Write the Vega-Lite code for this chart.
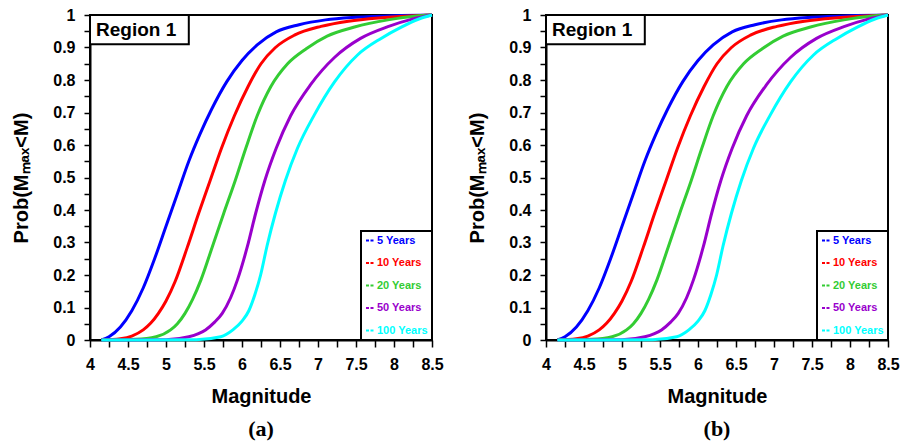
{
  "$schema": "https://vega.github.io/schema/vega-lite/v6.json",
  "padding": {"left": 10, "top": 6, "right": 0, "bottom": 0},
  "spacing": 21,
  "background": "white",
  "datasets": {
    "curves": [
      {"period": "5 Years", "magnitude": 4.15, "prob": 0},
      {"period": "5 Years", "magnitude": 4.25, "prob": 0.01},
      {"period": "5 Years", "magnitude": 4.4, "prob": 0.04},
      {"period": "5 Years", "magnitude": 4.55, "prob": 0.09},
      {"period": "5 Years", "magnitude": 4.7, "prob": 0.16},
      {"period": "5 Years", "magnitude": 4.85, "prob": 0.25},
      {"period": "5 Years", "magnitude": 5.0, "prob": 0.35},
      {"period": "5 Years", "magnitude": 5.15, "prob": 0.45},
      {"period": "5 Years", "magnitude": 5.3, "prob": 0.55},
      {"period": "5 Years", "magnitude": 5.45, "prob": 0.635},
      {"period": "5 Years", "magnitude": 5.6, "prob": 0.71},
      {"period": "5 Years", "magnitude": 5.8, "prob": 0.795},
      {"period": "5 Years", "magnitude": 6.0, "prob": 0.86},
      {"period": "5 Years", "magnitude": 6.2, "prob": 0.908},
      {"period": "5 Years", "magnitude": 6.45, "prob": 0.948},
      {"period": "5 Years", "magnitude": 6.75, "prob": 0.97},
      {"period": "5 Years", "magnitude": 7.1, "prob": 0.985},
      {"period": "5 Years", "magnitude": 7.5, "prob": 0.993},
      {"period": "5 Years", "magnitude": 8.0, "prob": 0.998},
      {"period": "5 Years", "magnitude": 8.5, "prob": 1},
      {"period": "10 Years", "magnitude": 4.15, "prob": 0},
      {"period": "10 Years", "magnitude": 4.4, "prob": 0.004},
      {"period": "10 Years", "magnitude": 4.55, "prob": 0.012},
      {"period": "10 Years", "magnitude": 4.7, "prob": 0.031},
      {"period": "10 Years", "magnitude": 4.8, "prob": 0.052},
      {"period": "10 Years", "magnitude": 4.9, "prob": 0.082},
      {"period": "10 Years", "magnitude": 5.0, "prob": 0.12},
      {"period": "10 Years", "magnitude": 5.12, "prob": 0.18},
      {"period": "10 Years", "magnitude": 5.28, "prob": 0.285},
      {"period": "10 Years", "magnitude": 5.43, "prob": 0.39},
      {"period": "10 Years", "magnitude": 5.58, "prob": 0.49},
      {"period": "10 Years", "magnitude": 5.73, "prob": 0.59},
      {"period": "10 Years", "magnitude": 5.9, "prob": 0.69},
      {"period": "10 Years", "magnitude": 6.08, "prob": 0.78},
      {"period": "10 Years", "magnitude": 6.25, "prob": 0.85},
      {"period": "10 Years", "magnitude": 6.44, "prob": 0.9},
      {"period": "10 Years", "magnitude": 6.69, "prob": 0.938},
      {"period": "10 Years", "magnitude": 7.04, "prob": 0.965},
      {"period": "10 Years", "magnitude": 7.4, "prob": 0.981},
      {"period": "10 Years", "magnitude": 7.8, "prob": 0.991},
      {"period": "10 Years", "magnitude": 8.2, "prob": 0.997},
      {"period": "10 Years", "magnitude": 8.5, "prob": 1},
      {"period": "20 Years", "magnitude": 4.15, "prob": 0},
      {"period": "20 Years", "magnitude": 4.6, "prob": 0.002},
      {"period": "20 Years", "magnitude": 4.87, "prob": 0.01},
      {"period": "20 Years", "magnitude": 5.06, "prob": 0.031},
      {"period": "20 Years", "magnitude": 5.15, "prob": 0.05},
      {"period": "20 Years", "magnitude": 5.25, "prob": 0.082},
      {"period": "20 Years", "magnitude": 5.35, "prob": 0.125},
      {"period": "20 Years", "magnitude": 5.46, "prob": 0.185},
      {"period": "20 Years", "magnitude": 5.61, "prob": 0.287},
      {"period": "20 Years", "magnitude": 5.76, "prob": 0.39},
      {"period": "20 Years", "magnitude": 5.91, "prob": 0.49},
      {"period": "20 Years", "magnitude": 6.05, "prob": 0.59},
      {"period": "20 Years", "magnitude": 6.2, "prob": 0.69},
      {"period": "20 Years", "magnitude": 6.38, "prob": 0.78},
      {"period": "20 Years", "magnitude": 6.6, "prob": 0.85},
      {"period": "20 Years", "magnitude": 6.85, "prob": 0.897},
      {"period": "20 Years", "magnitude": 7.12, "prob": 0.935},
      {"period": "20 Years", "magnitude": 7.48, "prob": 0.963},
      {"period": "20 Years", "magnitude": 7.92, "prob": 0.985},
      {"period": "20 Years", "magnitude": 8.3, "prob": 0.997},
      {"period": "20 Years", "magnitude": 8.5, "prob": 1},
      {"period": "50 Years", "magnitude": 4.15, "prob": 0},
      {"period": "50 Years", "magnitude": 5.0, "prob": 0.001},
      {"period": "50 Years", "magnitude": 5.3, "prob": 0.01},
      {"period": "50 Years", "magnitude": 5.52, "prob": 0.031},
      {"period": "50 Years", "magnitude": 5.64, "prob": 0.055},
      {"period": "50 Years", "magnitude": 5.74, "prob": 0.082},
      {"period": "50 Years", "magnitude": 5.85, "prob": 0.13},
      {"period": "50 Years", "magnitude": 5.94, "prob": 0.185},
      {"period": "50 Years", "magnitude": 6.07, "prob": 0.287},
      {"period": "50 Years", "magnitude": 6.18, "prob": 0.39},
      {"period": "50 Years", "magnitude": 6.3, "prob": 0.49},
      {"period": "50 Years", "magnitude": 6.45, "prob": 0.59},
      {"period": "50 Years", "magnitude": 6.64, "prob": 0.69},
      {"period": "50 Years", "magnitude": 6.9, "prob": 0.785},
      {"period": "50 Years", "magnitude": 7.22, "prob": 0.87},
      {"period": "50 Years", "magnitude": 7.56, "prob": 0.928},
      {"period": "50 Years", "magnitude": 7.92, "prob": 0.964},
      {"period": "50 Years", "magnitude": 8.25, "prob": 0.988},
      {"period": "50 Years", "magnitude": 8.5, "prob": 1},
      {"period": "100 Years", "magnitude": 4.15, "prob": 0},
      {"period": "100 Years", "magnitude": 5.4, "prob": 0.001},
      {"period": "100 Years", "magnitude": 5.72, "prob": 0.01},
      {"period": "100 Years", "magnitude": 5.88, "prob": 0.031},
      {"period": "100 Years", "magnitude": 6.0, "prob": 0.058},
      {"period": "100 Years", "magnitude": 6.09, "prob": 0.09},
      {"period": "100 Years", "magnitude": 6.17, "prob": 0.14},
      {"period": "100 Years", "magnitude": 6.245, "prob": 0.2},
      {"period": "100 Years", "magnitude": 6.33, "prob": 0.29},
      {"period": "100 Years", "magnitude": 6.44, "prob": 0.39},
      {"period": "100 Years", "magnitude": 6.57, "prob": 0.49},
      {"period": "100 Years", "magnitude": 6.73, "prob": 0.59},
      {"period": "100 Years", "magnitude": 6.95, "prob": 0.692},
      {"period": "100 Years", "magnitude": 7.22, "prob": 0.795},
      {"period": "100 Years", "magnitude": 7.52, "prob": 0.877},
      {"period": "100 Years", "magnitude": 7.83, "prob": 0.928},
      {"period": "100 Years", "magnitude": 8.09, "prob": 0.962},
      {"period": "100 Years", "magnitude": 8.32, "prob": 0.987},
      {"period": "100 Years", "magnitude": 8.5, "prob": 1}
    ]
  },
  "config": {
    "view": {"stroke": "black", "strokeWidth": 2},
    "legend": {"strokeWidth": 2},
    "axis": {
      "grid": false,
      "domainColor": "black",
      "domainWidth": 2,
      "tickColor": "black",
      "tickWidth": 1.5,
      "labelFont": "Liberation Sans",
      "labelFontWeight": "bold",
      "labelFontSize": 16,
      "labelColor": "black",
      "titleFont": "Liberation Sans",
      "titleFontWeight": "bold",
      "titleFontSize": 20,
      "titleColor": "black",
      "labelFlush": false,
      "labelOverlap": false
    }
  },
  "resolve": {"legend": {"color": "independent"}},
  "hconcat": [
    {
      "width": 342,
      "height": 325,
      "title": {"text": "(a)", "orient": "bottom", "font": "Liberation Serif", "fontSize": 22, "fontWeight": "bold", "color": "black", "offset": 13},
      "layer": [
        {
          "data": {"name": "curves"},
          "mark": {"type": "line", "strokeWidth": 3, "interpolate": "monotone"},
          "encoding": {
            "x": {"field": "magnitude", "type": "quantitative", "scale": {"domain": [4, 8.5], "nice": false},
              "axis": {"title": "Magnitude", "values": [4, 4.25, 4.5, 4.75, 5, 5.25, 5.5, 5.75, 6, 6.25, 6.5, 6.75, 7, 7.25, 7.5, 7.75, 8, 8.25, 8.5], "format": ".1~f", "labelExpr": "round(datum.value*4) % 2 == 0 ? datum.label : ''", "tickSize": 7, "labelPadding": 9, "titlePadding": 14}},
            "y": {"field": "prob", "type": "quantitative", "scale": {"domain": [0, 1], "nice": false},
              "axis": {"title": "Prob(Mₘₐₓ<M)", "values": [0, 0.05, 0.1, 0.15, 0.2, 0.25, 0.3, 0.35, 0.4, 0.45, 0.5, 0.55, 0.6, 0.65, 0.7, 0.75, 0.8, 0.85, 0.9, 0.95, 1], "format": ".1~f", "labelExpr": "round(datum.value*20) % 2 == 0 ? datum.label : ''", "tickSize": 6, "labelPadding": 9, "titlePadding": 21}},
            "color": {"field": "period", "type": "nominal",
              "scale": {"domain": ["5 Years", "10 Years", "20 Years", "50 Years", "100 Years"], "range": ["#0000ff", "#ff0000", "#33cc33", "#9900cc", "#00ffff"]},
              "legend": {"title": null, "orient": "bottom-right", "offset": 0, "padding": 4, "strokeColor": "black", "fillColor": "white", "symbolType": "stroke", "symbolStrokeWidth": 2, "symbolDash": [3, 1.5], "symbolSize": 81, "labelFont": "Liberation Sans", "labelFontWeight": "bold", "labelFontSize": 11, "labelColor": {"expr": "scale('color', datum.value)"}, "rowPadding": 10.5, "labelOffset": 1}}
          }
        },
        {
          "data": {"values": [{"label": "Region 1"}]},
          "mark": {"type": "rect", "fill": "white", "stroke": "black", "strokeWidth": 2},
          "encoding": {
            "x": {"datum": 4, "type": "quantitative", "axis": {"title": "Magnitude", "values": [4, 4.25, 4.5, 4.75, 5, 5.25, 5.5, 5.75, 6, 6.25, 6.5, 6.75, 7, 7.25, 7.5, 7.75, 8, 8.25, 8.5], "format": ".1~f", "labelExpr": "round(datum.value*4) % 2 == 0 ? datum.label : ''", "tickSize": 7, "labelPadding": 9, "titlePadding": 14}},
            "x2": {"datum": 5.3},
            "y": {"datum": 1, "type": "quantitative", "axis": {"title": "Prob(Mₘₐₓ<M)", "values": [0, 0.05, 0.1, 0.15, 0.2, 0.25, 0.3, 0.35, 0.4, 0.45, 0.5, 0.55, 0.6, 0.65, 0.7, 0.75, 0.8, 0.85, 0.9, 0.95, 1], "format": ".1~f", "labelExpr": "round(datum.value*20) % 2 == 0 ? datum.label : ''", "tickSize": 6, "labelPadding": 9, "titlePadding": 21}},
            "y2": {"datum": 0.91}
          }
        },
        {
          "data": {"values": [{"label": "Region 1"}]},
          "mark": {"type": "text", "align": "left", "baseline": "middle", "font": "Liberation Sans", "fontWeight": "bold", "fontSize": 19, "color": "black"},
          "encoding": {
            "text": {"field": "label"},
            "x": {"datum": 4.08, "type": "quantitative", "axis": {"title": "Magnitude", "values": [4, 4.25, 4.5, 4.75, 5, 5.25, 5.5, 5.75, 6, 6.25, 6.5, 6.75, 7, 7.25, 7.5, 7.75, 8, 8.25, 8.5], "format": ".1~f", "labelExpr": "round(datum.value*4) % 2 == 0 ? datum.label : ''", "tickSize": 7, "labelPadding": 9, "titlePadding": 14}},
            "y": {"datum": 0.955, "type": "quantitative", "axis": {"title": "Prob(Mₘₐₓ<M)", "values": [0, 0.05, 0.1, 0.15, 0.2, 0.25, 0.3, 0.35, 0.4, 0.45, 0.5, 0.55, 0.6, 0.65, 0.7, 0.75, 0.8, 0.85, 0.9, 0.95, 1], "format": ".1~f", "labelExpr": "round(datum.value*20) % 2 == 0 ? datum.label : ''", "tickSize": 6, "labelPadding": 9, "titlePadding": 21}}
          }
        }
      ]
    },
    {
      "width": 342,
      "height": 325,
      "title": {"text": "(b)", "orient": "bottom", "font": "Liberation Serif", "fontSize": 22, "fontWeight": "bold", "color": "black", "offset": 13},
      "layer": [
        {
          "data": {"name": "curves"},
          "mark": {"type": "line", "strokeWidth": 3, "interpolate": "monotone"},
          "encoding": {
            "x": {"field": "magnitude", "type": "quantitative", "scale": {"domain": [4, 8.5], "nice": false},
              "axis": {"title": "Magnitude", "values": [4, 4.25, 4.5, 4.75, 5, 5.25, 5.5, 5.75, 6, 6.25, 6.5, 6.75, 7, 7.25, 7.5, 7.75, 8, 8.25, 8.5], "format": ".1~f", "labelExpr": "round(datum.value*4) % 2 == 0 ? datum.label : ''", "tickSize": 7, "labelPadding": 9, "titlePadding": 14}},
            "y": {"field": "prob", "type": "quantitative", "scale": {"domain": [0, 1], "nice": false},
              "axis": {"title": "Prob(Mₘₐₓ<M)", "values": [0, 0.05, 0.1, 0.15, 0.2, 0.25, 0.3, 0.35, 0.4, 0.45, 0.5, 0.55, 0.6, 0.65, 0.7, 0.75, 0.8, 0.85, 0.9, 0.95, 1], "format": ".1~f", "labelExpr": "round(datum.value*20) % 2 == 0 ? datum.label : ''", "tickSize": 6, "labelPadding": 9, "titlePadding": 21}},
            "color": {"field": "period", "type": "nominal",
              "scale": {"domain": ["5 Years", "10 Years", "20 Years", "50 Years", "100 Years"], "range": ["#0000ff", "#ff0000", "#33cc33", "#9900cc", "#00ffff"]},
              "legend": {"title": null, "orient": "bottom-right", "offset": 0, "padding": 4, "strokeColor": "black", "fillColor": "white", "symbolType": "stroke", "symbolStrokeWidth": 2, "symbolDash": [3, 1.5], "symbolSize": 81, "labelFont": "Liberation Sans", "labelFontWeight": "bold", "labelFontSize": 11, "labelColor": {"expr": "scale('color', datum.value)"}, "rowPadding": 10.5, "labelOffset": 1}}
          }
        },
        {
          "data": {"values": [{"label": "Region 1"}]},
          "mark": {"type": "rect", "fill": "white", "stroke": "black", "strokeWidth": 2},
          "encoding": {
            "x": {"datum": 4, "type": "quantitative", "axis": {"title": "Magnitude", "values": [4, 4.25, 4.5, 4.75, 5, 5.25, 5.5, 5.75, 6, 6.25, 6.5, 6.75, 7, 7.25, 7.5, 7.75, 8, 8.25, 8.5], "format": ".1~f", "labelExpr": "round(datum.value*4) % 2 == 0 ? datum.label : ''", "tickSize": 7, "labelPadding": 9, "titlePadding": 14}},
            "x2": {"datum": 5.3},
            "y": {"datum": 1, "type": "quantitative", "axis": {"title": "Prob(Mₘₐₓ<M)", "values": [0, 0.05, 0.1, 0.15, 0.2, 0.25, 0.3, 0.35, 0.4, 0.45, 0.5, 0.55, 0.6, 0.65, 0.7, 0.75, 0.8, 0.85, 0.9, 0.95, 1], "format": ".1~f", "labelExpr": "round(datum.value*20) % 2 == 0 ? datum.label : ''", "tickSize": 6, "labelPadding": 9, "titlePadding": 21}},
            "y2": {"datum": 0.91}
          }
        },
        {
          "data": {"values": [{"label": "Region 1"}]},
          "mark": {"type": "text", "align": "left", "baseline": "middle", "font": "Liberation Sans", "fontWeight": "bold", "fontSize": 19, "color": "black"},
          "encoding": {
            "text": {"field": "label"},
            "x": {"datum": 4.08, "type": "quantitative", "axis": {"title": "Magnitude", "values": [4, 4.25, 4.5, 4.75, 5, 5.25, 5.5, 5.75, 6, 6.25, 6.5, 6.75, 7, 7.25, 7.5, 7.75, 8, 8.25, 8.5], "format": ".1~f", "labelExpr": "round(datum.value*4) % 2 == 0 ? datum.label : ''", "tickSize": 7, "labelPadding": 9, "titlePadding": 14}},
            "y": {"datum": 0.955, "type": "quantitative", "axis": {"title": "Prob(Mₘₐₓ<M)", "values": [0, 0.05, 0.1, 0.15, 0.2, 0.25, 0.3, 0.35, 0.4, 0.45, 0.5, 0.55, 0.6, 0.65, 0.7, 0.75, 0.8, 0.85, 0.9, 0.95, 1], "format": ".1~f", "labelExpr": "round(datum.value*20) % 2 == 0 ? datum.label : ''", "tickSize": 6, "labelPadding": 9, "titlePadding": 21}}
          }
        }
      ]
    }
  ]
}
